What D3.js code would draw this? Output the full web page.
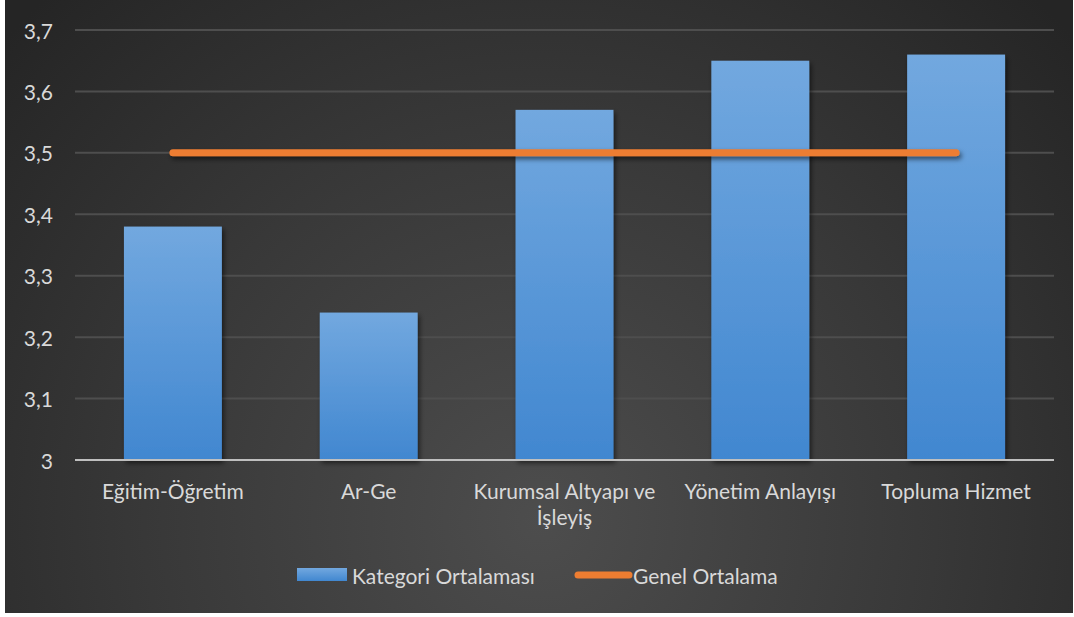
<!DOCTYPE html>
<html>
<head>
<meta charset="utf-8">
<script src="https://cdn.jsdelivr.net/npm/d3@7"></script>
<style>
  html, body { margin: 0; padding: 0; background: #ffffff; }
  svg { display: block; }
  text { font-family: Lato, "Open Sans", sans-serif; fill: #d9d9d9; }
</style>
</head>
<body>
<svg id="chart" width="1074" height="617"></svg>
<script>
// Category averages and overall average
const categories = ["Eğitim-Öğretim", "Ar-Ge", "Kurumsal Altyapı ve İşleyiş", "Yönetim Anlayışı", "Topluma Hizmet"];
const categoryMeans = [3.38, 3.24, 3.57, 3.65, 3.66];
const overallMeans = [3.5, 3.5, 3.5, 3.5, 3.5];
const yTicks = [3, 3.1, 3.2, 3.3, 3.4, 3.5, 3.6, 3.7];
const seriesNames = ["Kategori Ortalaması", "Genel Ortalama"];

const svg = d3.select("#chart");
const frame = { left: 5, top: 0, right: 1073, bottom: 613 };
const plot = { left: 75, right: 1054, top: 30, bottom: 460 };
const fontSize = 21;

const trLocale = d3.formatLocale({ decimal: ",", thousands: ".", grouping: [3], currency: ["", " ₺"] });
const fmt = trLocale.format("~g");

const defs = svg.append("defs");

// Dark panel with a soft light spot toward the lower centre
const bg = defs.append("radialGradient").attr("id", "bgGrad")
  .attr("gradientUnits", "userSpaceOnUse")
  .attr("cx", 540).attr("cy", 520).attr("r", 720);
bg.append("stop").attr("offset", "0%").attr("stop-color", "#4d4d4d");
bg.append("stop").attr("offset", "55%").attr("stop-color", "#383838");
bg.append("stop").attr("offset", "100%").attr("stop-color", "#252525");

const barGrad = defs.append("linearGradient").attr("id", "barGrad")
  .attr("x1", 0).attr("y1", 0).attr("x2", 0).attr("y2", 1);
barGrad.append("stop").attr("offset", "0%").attr("stop-color", "#72a8df");
barGrad.append("stop").attr("offset", "100%").attr("stop-color", "#4187d0");

// Drop shadow in user space so flat (zero-height) paths still render
const shadow = defs.append("filter").attr("id", "shadow")
  .attr("filterUnits", "userSpaceOnUse")
  .attr("x", 0).attr("y", 0).attr("width", 1074).attr("height", 617);
shadow.append("feDropShadow").attr("dx", 2).attr("dy", 3).attr("stdDeviation", 2.5)
  .attr("flood-color", "#000").attr("flood-opacity", 0.55);

svg.append("rect")
  .attr("x", frame.left).attr("y", frame.top)
  .attr("width", frame.right - frame.left).attr("height", frame.bottom - frame.top)
  .attr("fill", "url(#bgGrad)");

const x = d3.scaleBand().domain(categories)
  .range([plot.left, plot.right]).paddingInner(0.5).paddingOuter(0.25);
const y = d3.scaleLinear().domain([3, 3.7]).range([plot.bottom, plot.top]);

// Horizontal gridlines
svg.append("g").selectAll("line")
  .data(yTicks.filter(d => d > 3))
  .join("line")
  .attr("x1", plot.left).attr("x2", plot.right)
  .attr("y1", d => y(d)).attr("y2", d => y(d))
  .attr("stroke", "#4e4e4e").attr("stroke-width", 2);

// Y tick labels
svg.append("g").selectAll("text")
  .data(yTicks)
  .join("text")
  .attr("x", 53).attr("y", d => y(d))
  .attr("text-anchor", "end").attr("dominant-baseline", "central")
  .attr("font-size", fontSize)
  .text(d => fmt(d));

// Bars
svg.append("g").selectAll("rect")
  .data(categories)
  .join("rect")
  .attr("x", d => x(d))
  .attr("width", x.bandwidth())
  .attr("y", (d, i) => y(categoryMeans[i]))
  .attr("height", (d, i) => y(3) - y(categoryMeans[i]))
  .attr("fill", "url(#barGrad)")
  .attr("filter", "url(#shadow)");

// Category axis line
svg.append("line")
  .attr("x1", plot.left).attr("x2", plot.right)
  .attr("y1", y(3)).attr("y2", y(3))
  .attr("stroke", "#bfbfbf").attr("stroke-width", 2);

// Overall average line
const line = d3.line()
  .x((d, i) => x(categories[i]) + x.bandwidth() / 2)
  .y(d => y(d));
svg.append("path")
  .datum(overallMeans)
  .attr("d", line)
  .attr("fill", "none")
  .attr("stroke", "#ed7d31").attr("stroke-width", 7)
  .attr("stroke-linecap", "round")
  .attr("filter", "url(#shadow)");

// Category labels, wrapped to the band step
const catLabels = svg.append("g").selectAll("text")
  .data(categories)
  .join("text")
  .attr("font-size", fontSize)
  .attr("text-anchor", "middle")
  .attr("x", d => x(d) + x.bandwidth() / 2)
  .attr("y", 499);

catLabels.each(function (d) {
  const t = d3.select(this);
  const cx = +t.attr("x");
  const words = d.split(" ");
  const maxW = x.step();
  let lineWords = [];
  let tspan = t.append("tspan").attr("x", cx).attr("dy", 0);
  words.forEach(w => {
    lineWords.push(w);
    tspan.text(lineWords.join(" "));
    if (tspan.node().getComputedTextLength() > maxW && lineWords.length > 1) {
      lineWords.pop();
      tspan.text(lineWords.join(" "));
      lineWords = [w];
      tspan = t.append("tspan").attr("x", cx).attr("dy", 26).text(w);
    }
  });
});

// Legend
const legend = svg.append("g");
legend.append("rect")
  .attr("x", 297).attr("y", 568).attr("width", 50).attr("height", 13)
  .attr("fill", "url(#barGrad)");
legend.append("text")
  .attr("x", 352).attr("y", 575).attr("dominant-baseline", "central")
  .attr("font-size", fontSize).text(seriesNames[0]);
legend.append("line")
  .attr("x1", 578).attr("x2", 629).attr("y1", 575).attr("y2", 575)
  .attr("stroke", "#ed7d31").attr("stroke-width", 7).attr("stroke-linecap", "round");
legend.append("text")
  .attr("x", 633).attr("y", 575).attr("dominant-baseline", "central")
  .attr("font-size", fontSize).text(seriesNames[1]);
</script>
</body>
</html>
